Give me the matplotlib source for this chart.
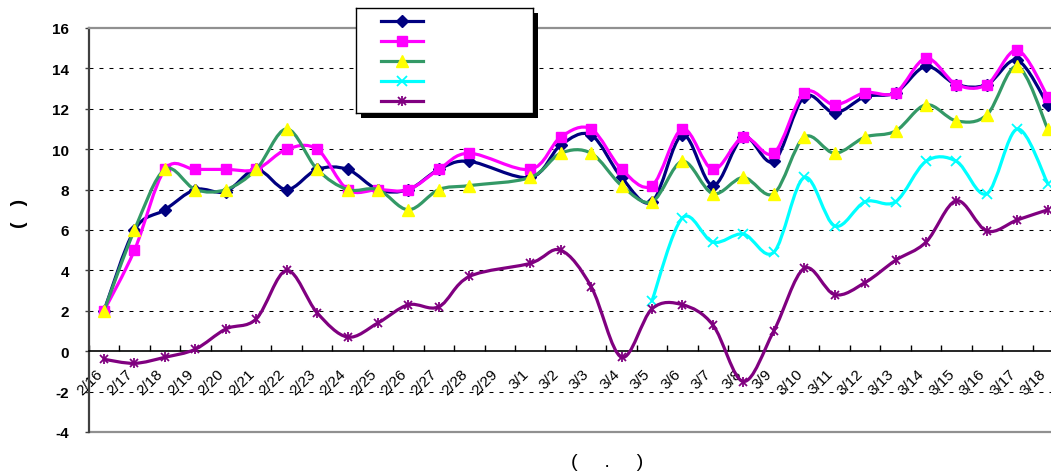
import numpy as np
import matplotlib
matplotlib.use("Agg")
import matplotlib.pyplot as plt
import matplotlib.transforms as mtransforms
from matplotlib.path import Path
from matplotlib.patches import PathPatch, Rectangle
from matplotlib.lines import Line2D

plt.rcParams['font.family'] = ['Liberation Sans', 'DejaVu Sans']

dates = ['2/16', '2/17', '2/18', '2/19', '2/20', '2/21', '2/22', '2/23', '2/24',
         '2/25', '2/26', '2/27', '2/28', '2/29', '3/1', '3/2', '3/3', '3/4', '3/5',
         '3/6', '3/7', '3/8', '3/9', '3/10', '3/11', '3/12', '3/13', '3/14', '3/15',
         '3/16', '3/17', '3/18']

s1 = [2, 6, 7, 8, 7.9, 9, 8, 9, 9, 8, 8, 9, 9.4, None,
      8.6, 10.2, 10.7, 8.6, 7.4, 10.7, 8.2, 10.6, 9.4, 12.6, 11.8, 12.6, 12.8, 14.1, 13.2, 13.2, 14.4, 12.2]
s2 = [2, 5, 9, 9, 9, 9, 10, 10, 8, 8, 8, 9, 9.8, None,
      9.0, 10.6, 11.0, 9.0, 8.2, 11.0, 9.0, 10.6, 9.8, 12.8, 12.2, 12.8, 12.8, 14.5, 13.2, 13.2, 14.9, 12.6]
s3 = [2, 6, 9, 8, 8, 9, 11, 9, 8, 8, 7, 8, 8.2, None,
      8.6, 9.8, 9.8, 8.2, 7.4, 9.4, 7.8, 8.6, 7.8, 10.6, 9.8, 10.6, 10.9, 12.2, 11.4, 11.7, 14.1, 11.0]
s4 = [None] * 18 + [2.5, 6.6, 5.4, 5.8, 4.9, 8.6, 6.2, 7.4, 7.4, 9.4, 9.4, 7.8, 11.0, 8.3]
s5 = [-0.4, -0.6, -0.3, 0.1, 1.1, 1.6, 4.0, 1.9, 0.7, 1.4, 2.3, 2.2, 3.7, None,
      4.35, 5.0, 3.2, -0.3, 2.1, 2.3, 1.3, -1.5, 1.0, 4.1, 2.8, 3.4, 4.5, 5.4, 7.45, 5.95, 6.5, 7.0]

yticks = [-4, -2, 0, 2, 4, 6, 8, 10, 12, 14, 16]

# (line colour, marker, marker face, marker size)
styles = [
    ('#000080', 'D', '#000080', 6),
    ('#FF00FF', 's', '#FF00FF', 7),
    ('#339966', '^', '#FFFF00', 8),
    ('#00FFFF', 'x', '#00FFFF', 7),
    ('#800080', 'x', '#800080', 6),
]


def smooth_path(xs, ys):
    # excel-style smoothed line: cubic bezier through the points
    p = np.column_stack([xs, ys])
    n = len(p)
    verts = [p[0]]
    codes = [Path.MOVETO]
    for i in range(n - 1):
        p0 = p[max(i - 1, 0)]
        p1 = p[i]
        p2 = p[i + 1]
        p3 = p[min(i + 2, n - 1)]
        verts += [p1 + (p2 - p0) / 6.0, p2 - (p3 - p1) / 6.0, p2]
        codes += [Path.CURVE4] * 3
    return Path(verts, codes)


W, H = 1051, 477
fig = plt.figure(figsize=(W / 100, H / 100), dpi=100)
left, right, top, bot = 88.8, 1063, 29, 433
ax = fig.add_axes([left / W, 1 - bot / H, (right - left) / W, (bot - top) / H])
ax.set_xlim(-0.5, len(dates) - 0.5)
ax.set_ylim(-4, 16)

for g in [-2, 2, 4, 6, 8, 10, 12, 14]:
    ax.axhline(g, color='black', lw=0.75, ls=(0, (3.8, 5.8)), zorder=1)
ax.axhline(-4, color='#909090', lw=1.6, zorder=1, clip_on=False)

ax.spines['right'].set_visible(False)
ax.spines['top'].set_color('#909090')
ax.spines['top'].set_linewidth(1.6)
ax.spines['left'].set_color('#404040')
ax.spines['left'].set_linewidth(1.6)
ax.spines['bottom'].set_position(('data', 0))
ax.spines['bottom'].set_color('black')
ax.spines['bottom'].set_linewidth(1.2)

series = [s1, s2, s3, s4, s5]
for k, (vals, st) in enumerate(zip(series, styles)):
    col, mk, mfc, ms = st
    xs = np.array([i for i, v in enumerate(vals) if v is not None], dtype=float)
    ys = np.array([v for v in vals if v is not None], dtype=float)
    ax.add_patch(PathPatch(smooth_path(xs, ys), fill=False, edgecolor=col, lw=2.3,
                           capstyle='round', joinstyle='round', zorder=3 + k))
    if mk == 'x':
        ax.plot(xs, ys, ls='none', marker='x', ms=ms, mew=1.3, color=col, zorder=3 + k)
        if k == 4:
            ax.plot(xs, ys, ls='none', marker='|', ms=ms + 1, mew=1.3, color=col, zorder=3 + k)
    else:
        ax.plot(xs, ys, ls='none', marker=mk, ms=ms, mfc=mfc, mec=mfc, zorder=3 + k)

ax.set_yticks(yticks)
ax.set_yticklabels([str(t) for t in yticks], fontsize=11, fontweight='bold')
ax.tick_params(axis='y', direction='out', length=3, width=1, color='#404040', pad=11)
ax.set_xticks(np.arange(len(dates) + 1) - 0.5)
ax.set_xticklabels([])
ax.tick_params(axis='x', direction='in', length=4, width=1, color='black')

off = mtransforms.ScaledTranslation(-9 / 100, -15 / 100, fig.dpi_scale_trans)
for i, d in enumerate(dates):
    ax.text(i, 0, d, rotation=45, ha='right', va='top', rotation_mode='anchor',
            fontsize=11, transform=ax.transData + off, zorder=2)

fig.text(20 / W, 1 - 213 / H, '(   )', rotation=90, fontsize=14, fontweight='bold',
         ha='center', va='center')
fig.text(607 / W, 1 - 463 / H, '(     .     )', fontsize=14, ha='center', va='center')

# legend box (labels are blank in the source)
lx0, lx1, ly0, ly1 = 355.7, 532.7, 9.3, 114
fig.patches.append(Rectangle(((lx0 + 5) / W, 1 - (ly1 + 5) / H), (lx1 - lx0) / W, (ly1 - ly0) / H,
                             transform=fig.transFigure, facecolor='black', edgecolor='none', zorder=5))
lax = fig.add_axes([lx0 / W, 1 - ly1 / H, (lx1 - lx0) / W, (ly1 - ly0) / H], zorder=6)
lax.set_xlim(lx0, lx1)
lax.set_ylim(ly1, ly0)
lax.set_xticks([])
lax.set_yticks([])
for sp in lax.spines.values():
    sp.set_linewidth(1.0)
    sp.set_color('black')
rows = [21.7, 42, 62, 82.3, 101.7]
for k, (ry, st) in enumerate(zip(rows, styles)):
    col, mk, mfc, ms = st
    lax.add_line(Line2D([381, 423.3], [ry, ry], color=col, lw=2.3))
    if mk == 'x':
        lax.plot([402], [ry], ls='none', marker='x', ms=ms, mew=1.3, color=col)
        if k == 4:
            lax.plot([402], [ry], ls='none', marker='|', ms=ms + 1, mew=1.3, color=col)
    else:
        lax.plot([402], [ry], ls='none', marker=mk, ms=ms, mfc=mfc, mec=mfc)

fig.savefig('out.png', dpi=100)
